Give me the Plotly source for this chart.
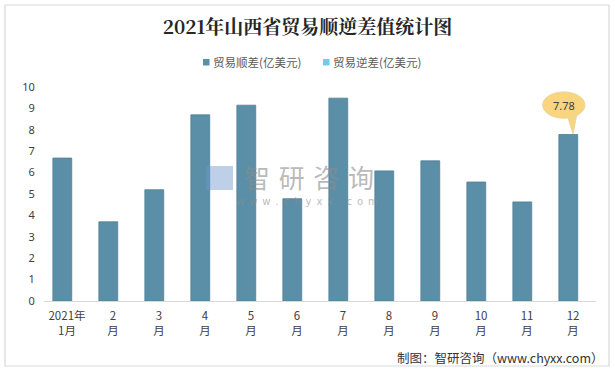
import plotly.graph_objects as go

categories = ["2021年<br>1月", "2<br>月", "3<br>月", "4<br>月", "5<br>月", "6<br>月",
              "7<br>月", "8<br>月", "9<br>月", "10<br>月", "11<br>月", "12<br>月"]
surplus = [6.68, 3.7, 5.2, 8.7, 9.15, 4.78, 9.48, 6.08, 6.55, 5.56, 4.63, 7.78]
deficit = [None] * 12
series_names = ["贸易顺差(亿美元)", "贸易逆差(亿美元)"]
series_colors = ["#5b8fa7", "#6fcbef"]
y_ticks = list(range(0, 11))
title_text = "2021年山西省贸易顺逆差值统计图"
source_text = "制图：智研咨询（www.chyxx.com）"
callout_index = 11

W, H = 615, 371
ML, MR, MT, MB = 44, 19, 87, 70
PW, PH = W - ML - MR, H - MT - MB

fig = go.Figure()
fig.add_trace(go.Bar(
    x=categories, y=surplus, name=series_names[0],
    marker=dict(color=series_colors[0], line=dict(color="#4f7f96", width=0.8)),
    width=0.41, showlegend=False,
))
fig.add_trace(go.Bar(
    x=categories, y=deficit, name=series_names[1],
    marker=dict(color=series_colors[1]), showlegend=False,
))

def px_x(p):
    return (p - ML) / PW

def px_y(p):
    return (H - MB - p) / PH

# outer border
fig.add_shape(type="rect", xref="paper", yref="paper",
              x0=px_x(5), x1=px_x(609), y0=px_y(366), y1=px_y(5),
              line=dict(color="#d9d9d9", width=1.2), layer="below")

# legend (drawn as squares + labels)
legend_x = [203, 323]
for name, col, lx in zip(series_names, series_colors, legend_x):
    fig.add_shape(type="rect", xref="paper", yref="paper",
                  x0=px_x(lx), x1=px_x(lx + 6.5), y0=px_y(65.5), y1=px_y(59),
                  fillcolor=col, line=dict(width=0))
    fig.add_annotation(xref="paper", yref="paper", x=px_x(lx + 8), y=px_y(62),
                       xanchor="left", yanchor="middle", text=name, showarrow=False,
                       font=dict(size=11.5, color="#595959", family="Noto Sans CJK SC"))

# callout bubble for last value
v = surplus[callout_index]
cx = callout_index - 0.2
fig.add_shape(type="path", xref="x", yref="y",
              path=f"M {callout_index-0.12} {v+0.85} L {callout_index} {v+0.02} L {callout_index+0.08} {v+0.9} Z",
              fillcolor="#f8d57e", line=dict(color="#ead7a0", width=1))
fig.add_shape(type="circle", xref="x", yref="y",
              x0=cx - 0.46, x1=cx + 0.46, y0=v + 0.76, y1=v + 1.99,
              fillcolor="#f8d57e", line=dict(color="#ead7a0", width=1))
fig.add_annotation(x=cx, y=v + 1.375, xref="x", yref="y", text=f"{v:.2f}",
                   showarrow=False, font=dict(size=11, color="#404040", family="Noto Sans"))

# watermark
fig.add_annotation(xref="paper", yref="paper", x=px_x(309), y=px_y(176),
                   text="\u2004".join("智研咨询"), showarrow=False,
                   font=dict(size=26, color="rgba(140,140,140,0.6)", family="Noto Sans CJK SC"))
fig.add_annotation(xref="paper", yref="paper", x=px_x(307), y=px_y(201),
                   text="\u2002".join("www.chyxx.com"), showarrow=False,
                   font=dict(size=10, color="rgba(140,140,140,0.6)", family="DejaVu Sans"))
fig.add_shape(type="rect", xref="paper", yref="paper",
              x0=px_x(206), x1=px_x(233), y0=px_y(190), y1=px_y(166),
              fillcolor="rgba(110,150,205,0.45)", line=dict(width=0))

# source
fig.add_annotation(xref="paper", yref="paper", x=px_x(606), y=px_y(357),
                   xanchor="right", yanchor="middle", text=source_text, showarrow=False,
                   font=dict(size=12.5, color="#333333", family="Noto Sans CJK SC"))

fig.update_layout(
    width=W, height=H,
    margin=dict(l=ML, r=MR, t=MT, b=MB, autoexpand=False),
    paper_bgcolor="white", plot_bgcolor="white",
    title=dict(text=f"<b>{title_text}</b>", x=0.5, xanchor="center",
               y=1 - 27 / H, yanchor="middle",
               font=dict(size=19, color="#262626", family="Noto Serif CJK SC, DejaVu Serif, Noto Sans CJK SC")),
    bargap=0.59,
    showlegend=False,
    font=dict(family="Noto Sans CJK SC"),
)
fig.update_xaxes(showline=True, linecolor="#d9d9d9", linewidth=1, showgrid=False,
                 ticks="outside", ticklen=4, tickcolor="white",
                 tickfont=dict(size=11.5, color="#404040"))
fig.update_yaxes(range=[0, 10], tickvals=y_ticks, showgrid=False, zeroline=False,
                 showline=False, ticks="outside", ticklen=6, tickcolor="white",
                 tickfont=dict(size=11, color="#404040", family="Noto Sans"))

fig.write_html("out.html", config={"displayModeBar": False},
               post_script="document.body.style.margin='0';")
